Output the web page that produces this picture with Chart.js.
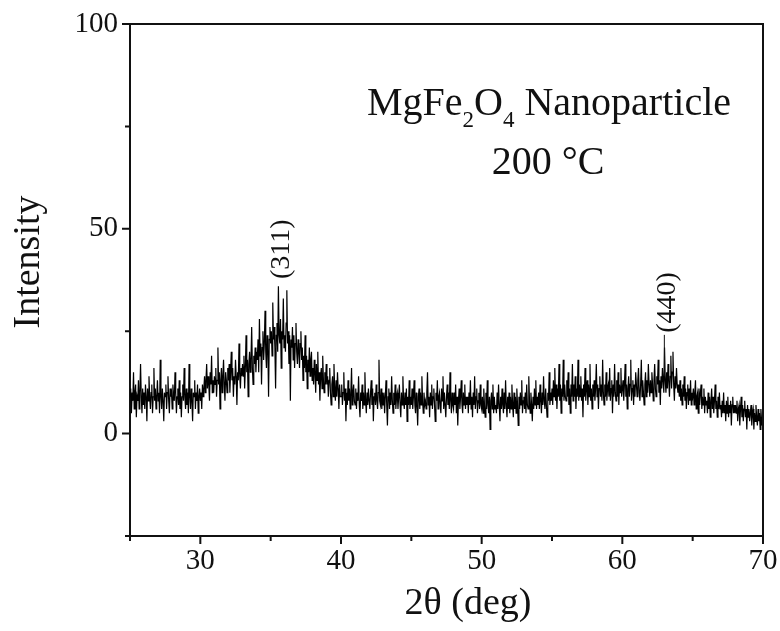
<!DOCTYPE html>
<html>
<head>
<meta charset="utf-8">
<title>MgFe2O4 XRD</title>
<script src="https://cdn.jsdelivr.net/npm/chart.js@4.4.1/dist/chart.umd.min.js"></script>
<style>
    html, body { margin: 0; padding: 0; background: #fff; }
    #wrap { width: 780px; height: 631px; }
</style>
</head>
<body>
<div id="wrap"><canvas id="xrdChart" width="780" height="631"></canvas></div>
<script>
// scan grid: 25.00 .. 70.00 deg, 0.05 deg per sample
const scanStart = 25;
const scanStep = 0.05;

// intensity per sample, one row per degree (20 samples)
const intensity = [
    9, 11, 5, 10, 8, 15, 6, 10, 12, 4, 9, 8, 13, 6, 10, 17, 9, 5, 11, 7,             // 25
    10, 6, 12, 9, 3, 11, 8, 14, 9, 6, 10, 12, 5, 9, 16, 8, 11, 6, 9, 13,             // 26
    8, 10, 5, 18, 9, 6, 11, 8, 3, 10, 9, 12, 6, 10, 14, 8, 5, 11, 9, 10,             // 27
    6, 12, 9, 8, 15, 10, 5, 9, 11, 7, 13, 6, 10, 4, 9, 12, 8, 16, 9, 6,              // 28
    11, 7, 10, 5, 17, 9, 6, 11, 8, 3, 10, 9, 13, 6, 10, 8, 12, 5, 9, 11,             // 29
    8, 10, 6, 12, 9, 11, 14, 10, 13, 17, 11, 14, 12, 8, 15, 12, 19, 10, 13, 10,      // 30
    14, 12, 16, 9, 13, 21, 12, 15, 6, 13, 16, 10, 14, 18, 12, 8, 15, 13, 10, 16,     // 31
    13, 17, 10, 15, 20, 13, 16, 9, 14, 12, 18, 14, 7, 15, 13, 22, 14, 11, 16, 14,    // 32
    17, 14, 19, 11, 16, 24, 15, 18, 9, 17, 20, 15, 18, 26, 16, 12, 19, 17, 21, 15,   // 33
    20, 18, 23, 15, 28, 19, 22, 12, 21, 25, 18, 22, 30, 20, 16, 24, 21, 9, 23, 26,   // 34
    22, 25, 19, 32, 23, 26, 21, 11, 24, 27, 20, 36, 24, 22, 28, 16, 25, 23, 33, 21,  // 35
    24, 20, 27, 35, 22, 25, 17, 24, 8, 23, 21, 26, 18, 24, 16, 22, 27, 20, 17, 23,   // 36
    20, 16, 22, 25, 18, 21, 13, 19, 16, 24, 15, 19, 11, 18, 15, 21, 14, 18, 20, 13,  // 37
    16, 12, 18, 15, 10, 17, 13, 20, 12, 15, 8, 14, 16, 11, 19, 13, 10, 15, 12, 17,   // 38
    12, 14, 9, 13, 16, 10, 7, 12, 14, 9, 17, 11, 8, 13, 9, 15, 11, 6, 12, 9,         // 39
    9, 12, 7, 10, 15, 8, 11, 3, 10, 7, 13, 8, 11, 6, 10, 16, 7, 10, 12, 8,           // 40
    7, 11, 6, 10, 8, 14, 7, 4, 10, 8, 12, 6, 10, 7, 15, 8, 5, 10, 7, 11,             // 41
    8, 6, 10, 13, 7, 11, 3, 9, 10, 7, 12, 8, 6, 10, 18, 8, 7, 11, 6, 10,             // 42
    7, 10, 5, 9, 13, 7, 2, 9, 11, 6, 10, 7, 14, 8, 5, 10, 7, 12, 6, 9,               // 43
    10, 6, 9, 12, 7, 4, 10, 7, 14, 8, 6, 10, 7, 11, 3, 9, 7, 13, 6, 9,               // 44
    7, 11, 6, 9, 13, 7, 5, 10, 7, 2, 9, 11, 6, 10, 7, 14, 8, 5, 10, 7,               // 45
    8, 6, 10, 15, 7, 9, 4, 10, 7, 12, 6, 9, 11, 7, 3, 10, 8, 13, 6, 9,               // 46
    10, 7, 5, 11, 8, 14, 6, 10, 7, 4, 9, 12, 7, 10, 6, 15, 8, 5, 10, 7,              // 47
    6, 10, 7, 12, 5, 9, 2, 8, 11, 6, 9, 13, 7, 5, 10, 7, 12, 6, 9, 7,                // 48
    9, 5, 10, 7, 13, 6, 9, 4, 10, 7, 14, 6, 9, 11, 5, 8, 10, 6, 12, 7,               // 49
    6, 9, 5, 11, 7, 4, 10, 6, 13, 7, 5, 9, 1, 8, 10, 6, 12, 5, 9, 6,                 // 50
    7, 5, 10, 6, 12, 7, 3, 9, 6, 11, 7, 5, 10, 6, 13, 7, 4, 9, 6, 10,                // 51
    5, 9, 6, 12, 7, 4, 10, 6, 9, 5, 11, 7, 2, 9, 6, 10, 7, 13, 5, 8,                 // 52
    9, 6, 10, 5, 12, 7, 6, 14, 8, 5, 10, 7, 3, 9, 6, 11, 7, 13, 6, 9,                // 53
    7, 10, 6, 12, 8, 5, 10, 7, 14, 8, 6, 11, 7, 4, 10, 8, 15, 7, 10, 8,              // 54
    11, 7, 13, 9, 16, 8, 12, 6, 11, 9, 17, 8, 12, 5, 11, 9, 18, 8, 12, 9,            // 55
    8, 13, 9, 15, 7, 11, 5, 12, 9, 17, 8, 12, 9, 14, 6, 11, 9, 18, 8, 12,            // 56
    9, 14, 8, 11, 4, 12, 9, 16, 8, 11, 13, 7, 12, 9, 17, 8, 11, 6, 12, 9,            // 57
    13, 8, 11, 17, 9, 12, 6, 11, 14, 9, 12, 8, 18, 10, 7, 12, 9, 15, 8, 11,          // 58
    12, 9, 16, 8, 11, 13, 5, 12, 9, 17, 10, 8, 13, 9, 15, 7, 12, 10, 16, 9,          // 59
    11, 13, 8, 12, 17, 9, 12, 6, 11, 14, 9, 12, 18, 8, 11, 13, 7, 12, 9, 15,         // 60
    12, 9, 13, 16, 10, 8, 12, 18, 9, 13, 10, 7, 12, 15, 9, 13, 10, 17, 12, 9,        // 61
    13, 10, 15, 12, 8, 13, 17, 11, 9, 14, 12, 18, 10, 13, 7, 14, 11, 16, 13, 10,     // 62
    21, 13, 10, 15, 11, 17, 13, 9, 14, 19, 11, 15, 20, 12, 8, 14, 11, 16, 12, 10,    // 63
    12, 9, 13, 8, 11, 7, 12, 9, 14, 8, 11, 6, 10, 12, 7, 11, 8, 13, 7, 10,           // 64
    9, 11, 7, 10, 13, 6, 9, 10, 5, 11, 7, 10, 12, 6, 9, 7, 11, 5, 9, 7,              // 65
    8, 5, 10, 6, 9, 4, 8, 11, 6, 9, 5, 8, 12, 6, 8, 4, 9, 6, 10, 6,                  // 66
    7, 4, 8, 5, 10, 5, 7, 3, 8, 5, 9, 4, 7, 5, 8, 2, 7, 9, 5, 7,                     // 67
    5, 7, 5, 8, 3, 6, 7, 2, 6, 9, 4, 7, 3, 6, 8, 4, 6, 1, 7, 4,                      // 68
    6, 3, 5, 7, 2, 5, 6, 1, 5, 3, 7, 4, 2, 6, 3, 5, 1, 6, 3, 2,                      // 69
    2                                                                                // 70
];

// axis ranges and labelled ticks
const xMin = 25, xMax = 70, xStep = 5;
const yMin = -25, yMax = 100, yStep = 25;
const xTickLabels = [30, 40, 50, 60, 70];
const yTickLabels = [0, 50, 100];

// reflection labels: [text, 2theta, label centre, leader line end]
const peakLabels = [
    ['(311)', 35.75, 45, null],
    ['(440)', 63.2, 32, 14]
];

const SERIF = '"Liberation Serif", "Times New Roman", serif';

const points = intensity.map((v, i) => ({ x: +(scanStart + i * scanStep).toFixed(2), y: v }));

// frame, tick marks, titles and annotations
const decorPlugin = {
    id: 'decor',
    afterDraw(chart) {
        const ctx = chart.ctx;
        const area = chart.chartArea;
        const xs = chart.scales.x;
        const ys = chart.scales.y;
        ctx.save();
        ctx.strokeStyle = '#111';
        ctx.lineWidth = 2;

        // top and right edges of the box
        ctx.beginPath();
        ctx.moveTo(area.left, area.top);
        ctx.lineTo(area.right, area.top);
        ctx.lineTo(area.right, area.bottom);
        ctx.stroke();

        // outward ticks, longer on labelled values
        ctx.beginPath();
        for (let v = xMin; v <= xMax; v += xStep) {
            const px = xs.getPixelForValue(v);
            const len = xTickLabels.includes(v) ? 8 : 5;
            ctx.moveTo(px, area.bottom);
            ctx.lineTo(px, area.bottom + len);
        }
        for (let v = yMin; v <= yMax; v += yStep) {
            const py = ys.getPixelForValue(v);
            const len = yTickLabels.includes(v) ? 8 : 5;
            ctx.moveTo(area.left, py);
            ctx.lineTo(area.left - len, py);
        }
        ctx.stroke();

        ctx.fillStyle = '#111';

        // axis titles
        ctx.font = '38px ' + SERIF;
        ctx.textAlign = 'center';
        ctx.textBaseline = 'middle';
        ctx.fillText('2\u03b8 (deg)', 468, 604);
        ctx.save();
        ctx.translate(29, 262);
        ctx.rotate(-Math.PI / 2);
        ctx.fillText('Intensity', 0, 0);
        ctx.restore();

        // sample caption with subscripts
        ctx.textAlign = 'left';
        ctx.textBaseline = 'alphabetic';
        const parts = [['MgFe', 0], ['2', 1], ['O', 0], ['4', 1], [' Nanoparticle', 0]];
        let cx = 367;
        const base = 115;
        parts.forEach(([txt, sub]) => {
            ctx.font = (sub ? '23px ' : '40px ') + SERIF;
            ctx.fillText(txt, cx, sub ? base + 12 : base);
            cx += ctx.measureText(txt).width;
        });
        ctx.font = '40px ' + SERIF;
        ctx.textAlign = 'center';
        ctx.fillText('200 \u00b0C', 548, 174);

        // reflection indices, rotated
        ctx.font = '28px ' + SERIF;
        ctx.textBaseline = 'middle';
        peakLabels.forEach(([txt, pos, mid, lineEnd]) => {
            const px = xs.getPixelForValue(pos);
            const py = ys.getPixelForValue(mid);
            ctx.save();
            ctx.translate(px, py);
            ctx.rotate(-Math.PI / 2);
            ctx.fillText(txt, 0, 0);
            const w = ctx.measureText(txt).width;
            ctx.restore();
            if (lineEnd !== null) {
                ctx.lineWidth = 1;
                ctx.beginPath();
                ctx.moveTo(px - 3, py + w / 2 + 2);
                ctx.lineTo(px - 3, ys.getPixelForValue(lineEnd));
                ctx.stroke();
            }
        });

        ctx.restore();
    }
};

const canvas = document.getElementById('xrdChart');
new Chart(canvas.getContext('2d'), {
    type: 'line',
    data: {
        datasets: [{
            label: 'MgFe2O4 200 C',
            data: points,
            borderColor: '#000',
            borderWidth: 1.2,
            pointRadius: 0,
            tension: 0,
            fill: false
        }]
    },
    options: {
        responsive: false,
        animation: false,
        parsing: false,
        layout: { padding: { left: 0, top: 24, right: 17, bottom: 0 } },
        plugins: {
            legend: { display: false },
            tooltip: { enabled: false }
        },
        scales: {
            x: {
                type: 'linear',
                min: xMin,
                max: xMax,
                grid: { display: false },
                border: { display: true, color: '#111', width: 2 },
                ticks: {
                    stepSize: xStep,
                    autoSkip: false,
                    maxRotation: 0,
                    padding: 0,
                    color: '#111',
                    font: { family: SERIF, size: 29 },
                    callback: v => xTickLabels.includes(v) ? String(v) : ''
                },
                afterFit: s => { s.height = 95; s.paddingRight = 0; s.paddingLeft = 0; }
            },
            y: {
                min: yMin,
                max: yMax,
                grid: { display: false },
                border: { display: true, color: '#111', width: 2 },
                ticks: {
                    stepSize: yStep,
                    autoSkip: false,
                    padding: 4,
                    color: '#111',
                    font: { family: SERIF, size: 29 },
                    callback: v => yTickLabels.includes(v) ? String(v) : ''
                },
                afterFit: s => { s.width = 130; s.paddingTop = 0; s.paddingBottom = 0; }
            }
        }
    },
    plugins: [decorPlugin]
});
</script>
</body>
</html>
